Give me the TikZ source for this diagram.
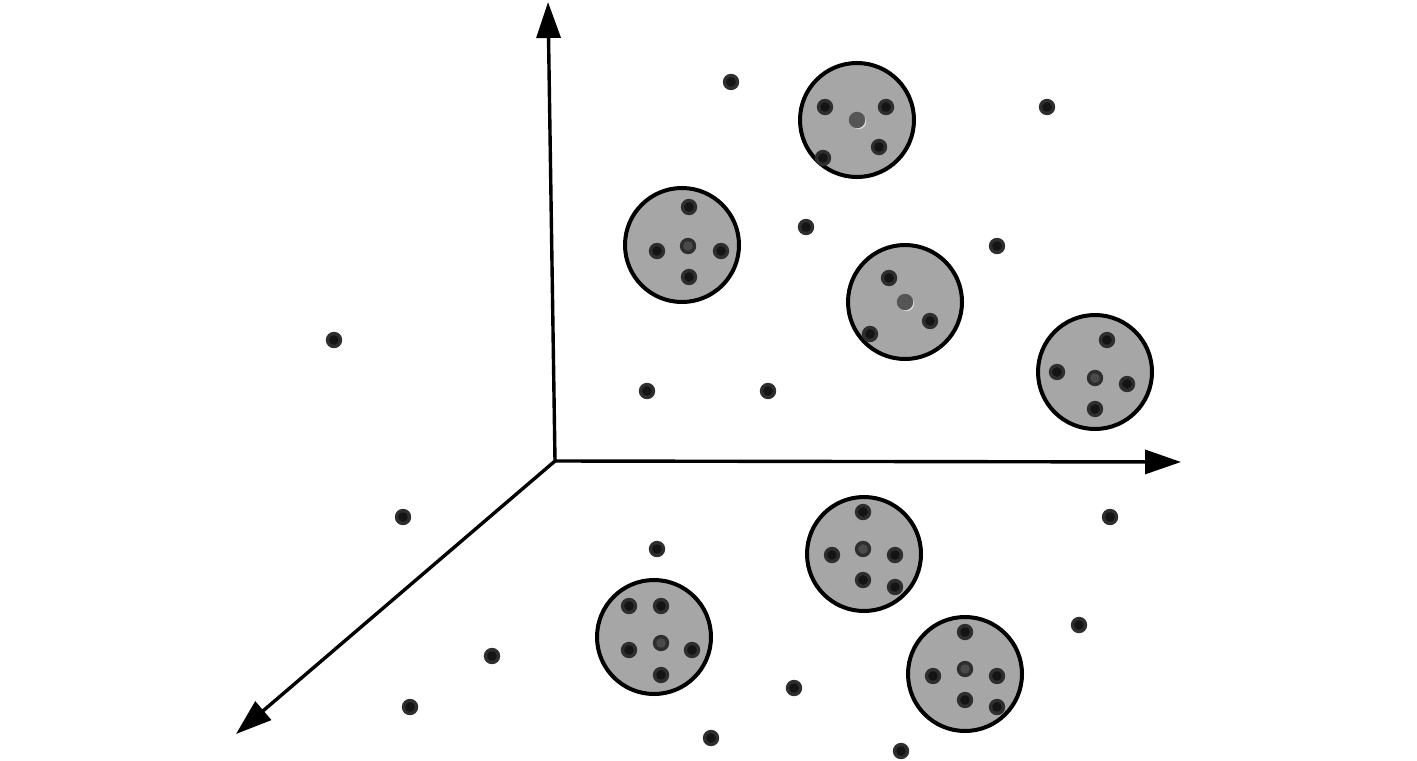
\documentclass[tikz,border=0pt]{standalone}
\usetikzlibrary{arrows.meta}
\definecolor{clfill}{HTML}{A6A6A6}
\definecolor{dotout}{HTML}{2E2E2E}
\definecolor{dotin}{HTML}{141414}
\definecolor{ctrin}{HTML}{4A4A4A}
\definecolor{ctrgray}{HTML}{555555}
\definecolor{ctrhi}{HTML}{D8D8D8}
\tikzset{
  axis/.style={line width=1.7pt,-{Triangle[length=18pt,width=12pt]}},
  cluster/.style={fill=clfill,draw=black,line width=2pt},
}
\newcommand{\pdot}[1]{\fill[dotout] #1 circle (8.2); \fill[dotin] #1 circle (4.8);}
\newcommand{\mdot}[1]{\fill[dotout] #1 circle (8.2); \fill[ctrin] #1 circle (4.8);}
\newcommand{\gdot}[1]{\fill[ctrhi] #1 ++(1.6,1.6) circle (7.6); \fill[ctrgray] #1 circle (8.2);}
\begin{document}
\begin{tikzpicture}[x=0.5pt,y=-0.5pt]
\useasboundingbox (0,0) rectangle (1417,760);
% axes
\coordinate (O) at (555,461);
\coordinate (Ytip) at (548,2);
\coordinate (Xtip) at (1181,462);
\coordinate (Ztip) at (236,734);
\draw[axis] (O) -- (Ytip);
\draw[axis] (O) -- (Xtip);
\draw[axis] (O) -- (Ztip);
% clusters
\draw[cluster] (857,120) circle (57);
\gdot{(857,120)}
\pdot{(825,107)} \pdot{(886,107)} \pdot{(879,147)} \pdot{(823,158)}

\draw[cluster] (682,245) circle (57);
\mdot{(688,246)}
\pdot{(689,207)} \pdot{(657,251)} \pdot{(721,251)} \pdot{(689,277)}

\draw[cluster] (905,302) circle (57);
\gdot{(905,302)}
\pdot{(889,278)} \pdot{(930,321)} \pdot{(870,334)}

\draw[cluster] (1095,372) circle (57);
\mdot{(1095,378)}
\pdot{(1107,340)} \pdot{(1057,372)} \pdot{(1127,384)} \pdot{(1095,409)}

\draw[cluster] (864,554) circle (57);
\mdot{(863,549)}
\pdot{(863,512)} \pdot{(832,555)} \pdot{(895,555)} \pdot{(863,580)} \pdot{(895,587)}

\draw[cluster] (654,637) circle (57);
\mdot{(661,643)}
\pdot{(629,606)} \pdot{(661,606)} \pdot{(629,650)} \pdot{(692,650)} \pdot{(661,675)}

\draw[cluster] (965,674) circle (57);
\mdot{(965,669)}
\pdot{(965,632)} \pdot{(933,676)} \pdot{(997,676)} \pdot{(965,700)} \pdot{(997,707)}
% loose points
\foreach \p in {(731,82),(1047,107),(806,227),(997,246),(334,340),(647,391),(768,391),(403,517),(657,549),(1110,517),(1079,625),(492,656),(410,707),(794,688),(711,738),(901,751)}
  {\pdot{\p}}
\end{tikzpicture}
\end{document}
